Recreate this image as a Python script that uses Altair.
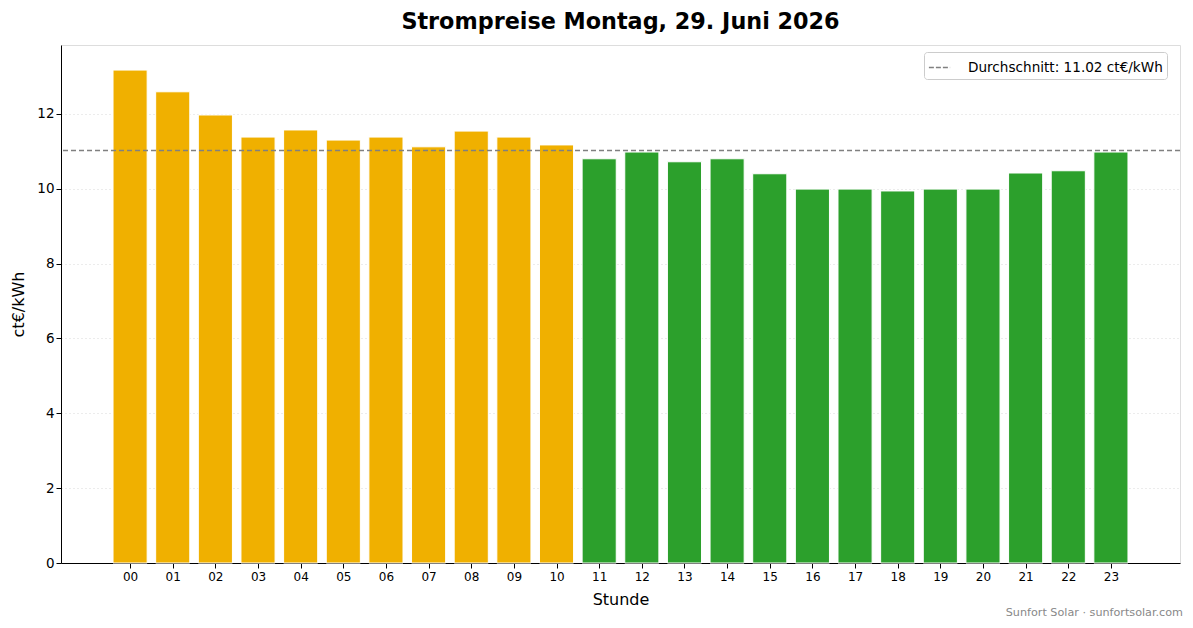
import altair as alt
import pandas as pd

# hourly prices in ct/kWh
hours = list(range(24))
prices = [13.17, 12.59, 11.97, 11.38, 11.57, 11.30, 11.38, 11.12, 11.54, 11.38, 11.17,
          10.80, 10.98, 10.72, 10.80, 10.40, 9.99, 9.99, 9.94, 9.99, 9.99, 10.42, 10.48, 10.98]
avg_price = 11.02
avg_label = "Durchschnitt: 11.02 ct€/kWh"
footer = "Sunfort Solar · sunfortsolar.com"

df = pd.DataFrame({"stunde": hours, "preis": prices})
df["lage"] = ["hoch" if p > avg_price else "niedrig" for p in prices]
avg_df = pd.DataFrame({"avg": [avg_price], "label": [avg_label]})
foot_df = pd.DataFrame({"text": [footer]})

FONT = "DejaVu Sans"

bars = alt.Chart(df).mark_bar(stroke="white", strokeWidth=1).transform_calculate(
    x0="datum.stunde - 0.4", x1="datum.stunde + 0.4"
).encode(
    x=alt.X("x0:Q", title="Stunde",
            scale=alt.Scale(domain=[-1.62, 24.62], nice=False, zero=False),
            axis=alt.Axis(values=hours, labelFontSize=12, titleFontSize=16,
                          labelExpr="datum.value < 10 ? '0' + datum.value : '' + datum.value",
                          titlePadding=9, tickSize=5, domainColor="black", grid=False,
                          tickColor="black", labelColor="black", titleColor="black",
                          labelPadding=3, titleFontWeight="normal", labelFlush=False)),
    x2="x1:Q",
    y=alt.Y("preis:Q", title="ct€/kWh",
            scale=alt.Scale(domain=[0, 13.84], nice=False),
            axis=alt.Axis(values=[0, 2, 4, 6, 8, 10, 12], labelFontSize=13.5,
                          titleFontSize=16, tickSize=5, domainColor="black",
                          tickColor="black", labelColor="black", titleColor="black",
                          grid=True, gridDash=[1, 3], gridColor="#d9d9d9",
                          titlePadding=10, titleFontWeight="normal")),
    y2=alt.datum(0),
    color=alt.Color("lage:N", scale=alt.Scale(domain=["hoch", "niedrig"],
                                              range=["#F0B000", "#2CA02C"]),
                    legend=None),
)

avg_rule = alt.Chart(avg_df).mark_rule(strokeDash=[5, 3], strokeWidth=1.5).encode(
    y="avg:Q",
    color=alt.Color("label:N", scale=alt.Scale(range=["#808080"]),
                    legend=alt.Legend(title=None, orient="none", legendX=863, legendY=7,
                                      symbolType="stroke", symbolDash=[5, 2],
                                      symbolStrokeWidth=1.5, symbolSize=450,
                                      labelFontSize=13.6, labelColor="black", labelLimit=400,
                                      labelOffset=17,
                                      strokeColor="#cccccc", fillColor="white",
                                      padding=4, cornerRadius=3)),
)

foot = alt.Chart(foot_df).mark_text(align="right", baseline="middle", fontSize=11.2,
                                     color="#888888", font=FONT).encode(
    text="text:N", x=alt.value(1122), y=alt.value(568)
)

chart = alt.layer(bars, avg_rule, foot).resolve_scale(color="independent").properties(
    width=1119, height=518,
    autosize=alt.AutoSizeParams(type="none"),
    padding={"left": 53, "top": 37, "right": 5, "bottom": 57},
    title=alt.Title("Strompreise Montag, 29. Juni 2026", fontSize=22.3, fontWeight="bold",
                    font=FONT, color="black", offset=12, anchor="middle"),
).configure_view(stroke=None).configure(font=FONT)

chart.save("out.html", embed_options={"renderer": "svg", "actions": False})
